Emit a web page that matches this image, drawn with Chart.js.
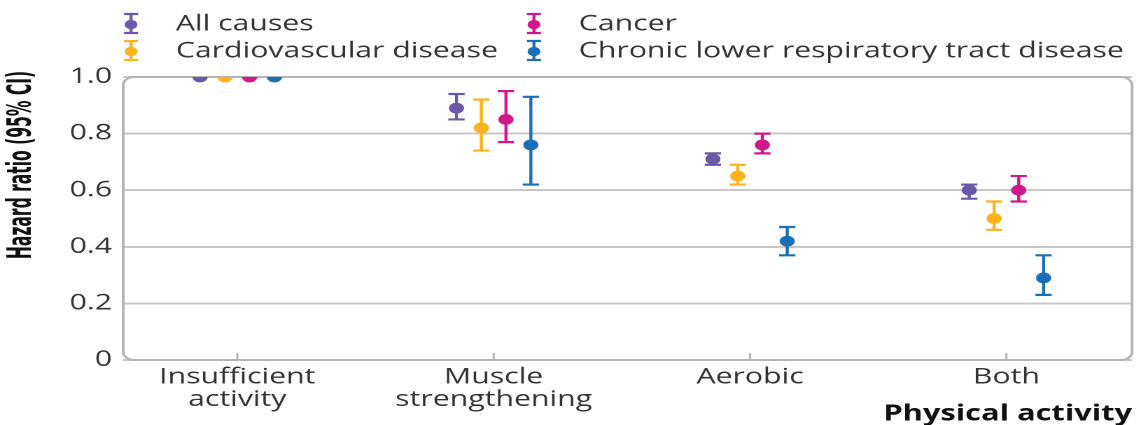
<!DOCTYPE html>
<html>
<head>
<meta charset="utf-8">
<script src="https://cdn.jsdelivr.net/npm/chart.js@4.4.1/dist/chart.umd.min.js"></script>
<style>
  html, body { margin: 0; padding: 0; background: #fff; overflow: hidden; }
  /* the reference is stretched sideways, so draw narrow and widen it */
  #wrap { position: absolute; left: 0; top: 0; width: 814.3px; height: 425px; transform: scaleX(1.4); transform-origin: 0 0; }
</style>
</head>
<body>
<div id="wrap"><canvas id="chart"></canvas></div>
<script>
const groups = [['Insufficient', 'activity'], ['Muscle', 'strengthening'], 'Aerobic', 'Both'];
const yTickLabels = ['0', '0.2', '0.4', '0.6', '0.8', '1.0'];
const seriesNames = ['All causes', 'Cardiovascular disease', 'Cancer', 'Chronic lower respiratory tract disease'];

const allCauses   = [1.0, 0.89, 0.71, 0.60];
const allCausesLo = [1.0, 0.85, 0.69, 0.57];
const allCausesHi = [1.0, 0.94, 0.73, 0.62];

const cardio   = [1.0, 0.82, 0.65, 0.50];
const cardioLo = [1.0, 0.74, 0.62, 0.46];
const cardioHi = [1.0, 0.92, 0.69, 0.56];

const cancer   = [1.0, 0.85, 0.76, 0.60];
const cancerLo = [1.0, 0.77, 0.73, 0.56];
const cancerHi = [1.0, 0.95, 0.80, 0.65];

const respiratory   = [1.0, 0.76, 0.42, 0.29];
const respiratoryLo = [1.0, 0.62, 0.37, 0.23];
const respiratoryHi = [1.0, 0.93, 0.47, 0.37];

const colors = ['#6c58a8', '#fbb31b', '#d2168c', '#1b6fb6'];
const dodge = [-0.145, -0.048, 0.048, 0.145];

const values = [allCauses, cardio, cancer, respiratory];
const lows = [allCausesLo, cardioLo, cancerLo, respiratoryLo];
const highs = [allCausesHi, cardioHi, cancerHi, respiratoryHi];

Chart.defaults.font.family = "'Open Sans', sans-serif";

const datasets = values.map((vals, i) => ({
    label: seriesNames[i],
    data: vals.map((v, j) => ({ x: j + dodge[i], y: v })),
    lo: lows[i],
    hi: highs[i],
    backgroundColor: colors[i],
    borderColor: colors[i],
    borderWidth: 0,
    pointRadius: 5.4,
    pointHoverRadius: 5.4,
    showLine: false
}));

// plot frame, small ticks under each group, error bars
const framePlugin = {
    id: 'frame',
    beforeDatasetsDraw(chart) {
        const ctx = chart.ctx;
        const a = chart.chartArea;
        const xs = chart.scales.x;
        const ys = chart.scales.y;
        ctx.save();
        ctx.strokeStyle = '#b4b4b4';
        ctx.lineWidth = 2;
        ctx.beginPath();
        ctx.roundRect(a.left, a.top, a.right - a.left, a.bottom - a.top, 8);
        ctx.stroke();

        ctx.lineWidth = 1.5;
        groups.forEach((g, i) => {
            const x = xs.getPixelForValue(i);
            ctx.beginPath();
            ctx.moveTo(x, a.bottom);
            ctx.lineTo(x, a.bottom - 7);
            ctx.stroke();
        });

        chart.data.datasets.forEach((ds, i) => {
            const meta = chart.getDatasetMeta(i);
            ctx.strokeStyle = ds.borderColor;
            ctx.lineWidth = 2.2;
            meta.data.forEach((pt, j) => {
                if (ds.lo[j] === ds.hi[j]) return;
                const y1 = ys.getPixelForValue(ds.lo[j]);
                const y2 = ys.getPixelForValue(ds.hi[j]);
                ctx.beginPath();
                ctx.moveTo(pt.x, y1);
                ctx.lineTo(pt.x, y2);
                ctx.moveTo(pt.x - 5.8, y1);
                ctx.lineTo(pt.x + 5.8, y1);
                ctx.moveTo(pt.x - 5.8, y2);
                ctx.lineTo(pt.x + 5.8, y2);
                ctx.stroke();
            });
        });
        ctx.restore();
    }
};

// two-column legend and the axis titles
const labelsPlugin = {
    id: 'labels',
    afterDraw(chart) {
        const ctx = chart.ctx;
        const a = chart.chartArea;
        ctx.save();
        const cols = [93.6, 381.4];
        const rows = [23.5, 50.5];
        chart.data.datasets.forEach((ds, i) => {
            const cx = cols[Math.floor(i / 2)];
            const cy = rows[i % 2];
            ctx.strokeStyle = ds.borderColor;
            ctx.fillStyle = ds.borderColor;
            ctx.lineWidth = 2.2;
            ctx.beginPath();
            ctx.moveTo(cx, cy - 9.5);
            ctx.lineTo(cx, cy + 9.5);
            ctx.moveTo(cx - 5, cy - 9.5);
            ctx.lineTo(cx + 5, cy - 9.5);
            ctx.moveTo(cx - 5, cy + 9.5);
            ctx.lineTo(cx + 5, cy + 9.5);
            ctx.stroke();
            ctx.beginPath();
            ctx.arc(cx, cy + 1, 4.6, 0, Math.PI * 2);
            ctx.fill();

            ctx.fillStyle = '#333';
            ctx.font = "21.6px 'Open Sans', sans-serif";
            ctx.textAlign = 'left';
            ctx.textBaseline = 'middle';
            ctx.fillText(ds.label, cx + 32, cy + 1);
        });

        ctx.fillStyle = '#111';
        ctx.font = "bold 22px 'Open Sans', sans-serif";
        ctx.textAlign = 'right';
        ctx.textBaseline = 'middle';
        ctx.fillText('Physical activity', a.right, 414);

        ctx.translate(16, 165);
        ctx.rotate(-Math.PI / 2);
        ctx.scale(0.72, 1);
        ctx.textAlign = 'center';
        ctx.font = "bold 24px 'Liberation Sans Narrow', 'DejaVu Sans Condensed', sans-serif";
        ctx.fillText('Hazard ratio (95% CI)', 0, 0);
        ctx.restore();
    }
};

new Chart(document.getElementById('chart'), {
    type: 'scatter',
    data: { datasets: datasets },
    options: {
        responsive: true,
        maintainAspectRatio: false,
        devicePixelRatio: 2,
        animation: false,
        layout: { padding: { top: 77, right: 5.7, bottom: 0, left: 0 } },
        plugins: { legend: { display: false }, tooltip: { enabled: false } },
        scales: {
            x: {
                type: 'linear',
                min: -0.445,
                max: 3.49,
                grid: { display: false },
                border: { display: false },
                afterBuildTicks: (axis) => { axis.ticks = groups.map((g, i) => ({ value: i })); },
                afterFit: (axis) => { axis.height = 65; },
                ticks: {
                    autoSkip: false,
                    maxRotation: 0,
                    padding: -2,
                    color: '#333',
                    font: { size: 21.6, lineHeight: 1.05 },
                    callback: (v) => groups[v]
                }
            },
            y: {
                min: 0,
                max: 1,
                grid: { color: '#c8c8c8', lineWidth: 2, drawTicks: false },
                border: { display: false },
                afterFit: (axis) => { axis.width = 88; },
                ticks: {
                    stepSize: 0.2,
                    padding: 8,
                    color: '#333',
                    font: { size: 21.5 },
                    callback: (v, i) => yTickLabels[i]
                }
            }
        }
    },
    plugins: [framePlugin, labelsPlugin]
});
</script>
</body>
</html>
